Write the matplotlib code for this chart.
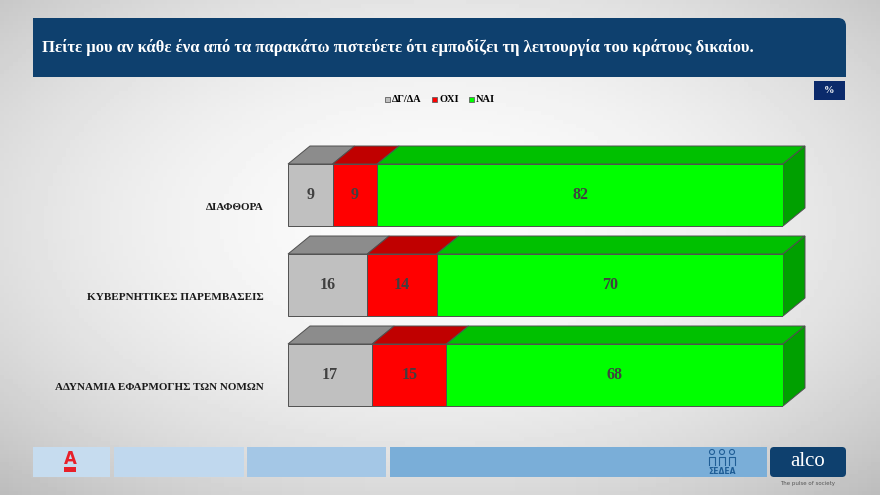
import matplotlib
matplotlib.use('Agg')
import matplotlib.pyplot as plt
import numpy as np
from matplotlib.patches import Polygon, Rectangle, FancyBboxPatch

plt.rcParams['font.family'] = ['Liberation Serif', 'DejaVu Serif']

title = 'Πείτε μου αν κάθε ένα από τα παρακάτω πιστεύετε ότι εμποδίζει τη λειτουργία του κράτους δικαίου.'
categories = ['ΔΙΑΦΘΟΡΑ', 'ΚΥΒΕΡΝΗΤΙΚΕΣ ΠΑΡΕΜΒΑΣΕΙΣ', 'ΑΔΥΝΑΜΙΑ ΕΦΑΡΜΟΓΗΣ ΤΩΝ ΝΟΜΩΝ']
series = ['ΔΓ/ΔΑ', 'ΟΧΙ', 'ΝΑΙ']
dk = [9, 16, 17]
oxi = [9, 14, 15]
nai = [82, 70, 68]
values = [dk, oxi, nai]

front = ['#c0c0c0', '#ff0000', '#00ff00']
top = ['#8c8c8c', '#c00000', '#00c000']
side = '#00a000'
edge = '#505050'

W, H = 880, 495
fig = plt.figure(figsize=(W / 100, H / 100), dpi=100)

# background gradient
bg = fig.add_axes([0, 0, 1, 1])
bg.set_xlim(0, W)
bg.set_ylim(H, 0)
bg.axis('off')
yy, xx = np.mgrid[0:1:120j, 0:1:200j]
d = np.sqrt(((xx - 0.5) / 0.75) ** 2 + ((yy - 0.45) / 0.75) ** 2)
grad = 0.985 - 0.25 * d ** 2
bg.imshow(grad, cmap='gray', vmin=0, vmax=1, extent=[0, W, H, 0], aspect='auto', zorder=0)

# title box
bg.add_patch(FancyBboxPatch((33, 18), 813, 59, boxstyle='round,pad=0,rounding_size=8',
                            fc='#0e406e', ec='none', zorder=1))
bg.add_patch(Rectangle((33, 18), 40, 59, fc='#0e406e', ec='none', zorder=1))
bg.add_patch(Rectangle((33, 50), 813, 27, fc='#0e406e', ec='none', zorder=1))
bg.text(42, 47, title, color='white', fontsize=12, fontweight='bold', va='center', ha='left', zorder=2)

# percent box
bg.add_patch(Rectangle((814, 81), 31, 19, fc='#0b2a6b', ec='none', zorder=1))
bg.text(829.5, 90.5, '%', color='white', fontsize=7.5, fontweight='bold', ha='center', va='center', zorder=2)

# legend
leg_x = [385, 432, 469]
for s, c, lx in zip(series, front, leg_x):
    bg.add_patch(Rectangle((lx, 97), 5, 5, fc=c, ec='#606060', lw=0.6, zorder=2))
    bg.text(lx + 7, 100, s, fontsize=7.5, fontweight='bold', va='center', ha='left', zorder=2)

# footer
bg.add_patch(Rectangle((33, 447), 77, 30, fc='#c6dcef', ec='none', zorder=1))
bg.add_patch(Rectangle((114, 447), 130, 30, fc='#c0d8ee', ec='none', zorder=1))
bg.add_patch(Rectangle((247, 447), 139, 30, fc='#a4c7e6', ec='none', zorder=1))
bg.add_patch(Rectangle((390, 447), 377, 30, fc='#7aaed8', ec='none', zorder=1))
bg.add_patch(FancyBboxPatch((770, 447), 76, 30, boxstyle='round,pad=0,rounding_size=4',
                            fc='#0e406e', ec='none', zorder=1))
bg.text(808, 461, 'alco', color='white', fontsize=15, ha='center', va='center', zorder=2)
bg.text(808, 484, 'The pulse of society', color='#555555', fontsize=4, family='DejaVu Sans',
        ha='center', va='center', zorder=2)
bg.text(70, 459, 'A', color='#e8202a', fontsize=12, fontweight='bold', family='DejaVu Sans',
        ha='center', va='center', zorder=2)
bg.add_patch(Rectangle((64, 467), 12, 5, fc='#e8202a', ec='none', zorder=2))
bg.text(722, 472, 'ΣΕΔΕΑ', color='#1f5e96', fontsize=5.5, fontweight='bold', family='DejaVu Sans',
        ha='center', va='center', zorder=2)
for cx in [712, 722, 732]:
    bg.add_patch(plt.Circle((cx, 452), 2.5, fc='none', ec='#1f5e96', lw=0.8, zorder=2))
    bg.plot([cx - 3, cx - 3, cx + 3, cx + 3], [465, 457, 457, 465], color='#1f5e96', lw=0.8, zorder=2)

# bars
px_y0, px_y1 = 120, 420
ax = fig.add_axes([288 / W, 1 - px_y1 / H, 495 / W, (px_y1 - px_y0) / H])
ax.set_xlim(0, 100)
ax.set_ylim(2.5, 2.5 - (px_y1 - px_y0) / 90)
ax.axis('off')
h = 62 / 90
dx = 22 / 4.95
dy = 18 / 90

ypos = np.arange(len(categories))
for i, y in enumerate(ypos):
    left = 0
    for j in range(len(series)):
        w = values[j][i]
        ax.barh(y, w, left=left, height=h, color=front[j], edgecolor=edge, lw=0.7, zorder=2)
        ax.add_patch(Polygon([(left, y - h / 2), (left + dx, y - h / 2 - dy),
                              (left + w + dx, y - h / 2 - dy), (left + w, y - h / 2)],
                             closed=True, fc=top[j], ec=edge, lw=0.7, zorder=1, clip_on=False))
        ax.text(left + w / 2, y, str(w), ha='center', va='center', fontsize=11.5,
                fontweight='bold', color='#404040', zorder=3)
        left += w
    ax.add_patch(Polygon([(left, y - h / 2), (left + dx, y - h / 2 - dy),
                          (left + dx, y + h / 2 - dy), (left, y + h / 2)],
                         closed=True, fc=side, ec=edge, lw=0.7, zorder=1, clip_on=False))
    ax.text(-5, y + 0.14, categories[i], ha='right', va='center', fontsize=8,
            fontweight='bold', color='#1a1a1a', clip_on=False)

fig.savefig('out.png', dpi=100)
